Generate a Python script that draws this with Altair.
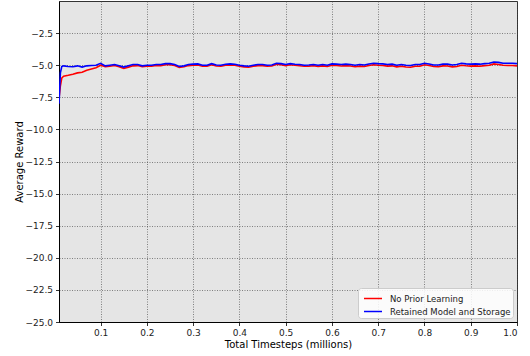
import altair as alt
import pandas as pd

x_vals = [0.010, 0.013, 0.016, 0.02, 0.03, 0.04, 0.05, 0.06, 0.07, 0.08, 0.09,
          0.10, 0.11, 0.12, 0.13, 0.14, 0.15, 0.16, 0.17, 0.18, 0.19,
          0.20, 0.21, 0.22, 0.23, 0.24, 0.25, 0.26, 0.27, 0.28, 0.29,
          0.30, 0.31, 0.32, 0.33, 0.34, 0.35, 0.36, 0.37, 0.38, 0.39,
          0.40, 0.41, 0.42, 0.43, 0.44, 0.45, 0.46, 0.47, 0.48, 0.49,
          0.50, 0.51, 0.52, 0.53, 0.54, 0.55, 0.56, 0.57, 0.58, 0.59,
          0.60, 0.61, 0.62, 0.63, 0.64, 0.65, 0.66, 0.67, 0.68, 0.69,
          0.70, 0.71, 0.72, 0.73, 0.74, 0.75, 0.76, 0.77, 0.78, 0.79,
          0.80, 0.81, 0.82, 0.83, 0.84, 0.85, 0.86, 0.87, 0.88, 0.89,
          0.90, 0.91, 0.92, 0.93, 0.94, 0.95, 0.96, 0.97, 0.98, 0.99, 1.00]

retained = [-8.0, -5.6, -5.1, -5.05, -5.1, -5.12, -5.05, -5.15, -5.05, -5.02, -5.0,
            -4.85, -5.05, -5.0, -4.95, -5.05, -5.15, -5.05, -4.95, -4.95, -5.05,
            -5.0, -5.0, -4.95, -4.95, -4.88, -4.88, -4.95, -5.1, -5.05, -4.95,
            -4.92, -4.9, -5.0, -5.0, -4.88, -4.98, -5.0, -4.92, -4.9, -4.92,
            -5.0, -5.05, -5.08, -5.0, -4.95, -4.95, -5.0, -4.98, -4.85, -4.88,
            -4.95, -4.88, -4.92, -4.95, -5.0, -4.98, -4.95, -5.0, -4.95, -5.0,
            -4.9, -4.92, -4.95, -4.92, -4.95, -5.0, -4.95, -4.98, -4.9, -4.85,
            -4.88, -4.9, -4.95, -4.92, -5.0, -4.95, -5.0, -5.02, -4.95, -4.95,
            -4.85, -4.9, -4.98, -4.98, -4.92, -4.92, -4.98, -4.95, -4.85, -4.9,
            -4.92, -4.9, -4.92, -4.88, -4.85, -4.75, -4.78, -4.85, -4.85, -4.85, -4.88]

no_prior = [-7.6, -6.6, -6.0, -5.85, -5.78, -5.7, -5.6, -5.55, -5.4, -5.3, -5.2,
            -5.0, -5.12, -5.08, -5.02, -5.12, -5.25, -5.15, -5.05, -5.03, -5.12,
            -5.08, -5.07, -5.02, -5.03, -4.97, -4.96, -5.03, -5.18, -5.12, -5.03,
            -5.0, -4.98, -5.08, -5.07, -4.97, -5.06, -5.08, -5.0, -4.98, -5.0,
            -5.08, -5.13, -5.16, -5.08, -5.03, -5.03, -5.08, -5.06, -4.93, -4.96,
            -5.03, -4.97, -5.0, -5.04, -5.08, -5.07, -5.04, -5.09, -5.05, -5.1,
            -5.0, -5.02, -5.06, -5.03, -5.06, -5.12, -5.07, -5.1, -5.02, -4.97,
            -5.0, -5.02, -5.07, -5.05, -5.13, -5.08, -5.14, -5.16, -5.08, -5.08,
            -4.97, -5.02, -5.1, -5.12, -5.05, -5.06, -5.13, -5.1, -5.0, -5.04,
            -5.07, -5.05, -5.08, -5.03, -5.0, -4.9, -4.95, -5.0, -5.02, -5.02, -5.05]

series_names = ["No Prior Learning", "Retained Model and Storage"]
series_colors = ["#ff0000", "#0000ff"]

x_ticks = [0.1, 0.2, 0.3, 0.4, 0.5, 0.6, 0.7, 0.8, 0.9, 1.0]
y_ticks = [-25.0, -22.5, -20.0, -17.5, -15.0, -12.5, -10.0, -7.5, -5.0, -2.5]

rows = []
for i, xv in enumerate(x_vals):
    rows.append({"x": xv, "y": no_prior[i], "series": series_names[0], "o": 0})
for i, xv in enumerate(x_vals):
    rows.append({"x": xv, "y": retained[i], "series": series_names[1], "o": 1})
df = pd.DataFrame(rows)

font = "DejaVu Sans"

chart = alt.Chart(df).mark_line(strokeWidth=1.6, clip=True).encode(
    x=alt.X("x:Q",
            scale=alt.Scale(domain=[0.01, 1.0], nice=False, zero=False),
            axis=alt.Axis(values=x_ticks, format=".1f", title="Total Timesteps (millions)")),
    y=alt.Y("y:Q",
            scale=alt.Scale(domain=[-25, 0], nice=False, zero=False),
            axis=alt.Axis(values=y_ticks, format=".1f", title="Average Reward")),
    color=alt.Color("series:N",
                    scale=alt.Scale(domain=series_names, range=series_colors),
                    legend=alt.Legend(title=None, orient="bottom-right", offset=4,
                                      symbolType="M-0.6,0H1.8", symbolStrokeWidth=1.5,
                                      symbolSize=225,
                                      fillColor="rgba(255,255,255,0.85)", strokeColor="#cccccc",
                                      padding=2, cornerRadius=3, labelFontSize=8.5,
                                      labelFont=font, labelColor="#222", rowPadding=0,
                                      labelOffset=13)),
    order="o:Q",
    detail="series:N",
).properties(
    width=458, height=321,
    padding={"left": 59, "top": 1, "right": 13, "bottom": 34},
    autosize=alt.AutoSizeParams(type="none"),
).configure_view(
    fill="#e5e5e5", stroke="#333333", strokeWidth=1
).configure_axis(
    grid=True, gridColor="#444444", gridDash=[1, 1.5], gridWidth=0.8, gridOpacity=0.8,
    domainColor="#000000", domainWidth=1,
    tickColor="#000000", tickSize=3.5, tickWidth=0.8,
    labelFont=font, labelFontSize=9, labelColor="#222222", labelPadding=3,
    titleFont=font, titleFontSize=10, titleFontWeight="normal", titleColor="#000000",
).configure_axisX(titlePadding=2).configure_axisY(titlePadding=0)

chart.save("out.html", embed_options={"renderer": "svg", "actions": False})
